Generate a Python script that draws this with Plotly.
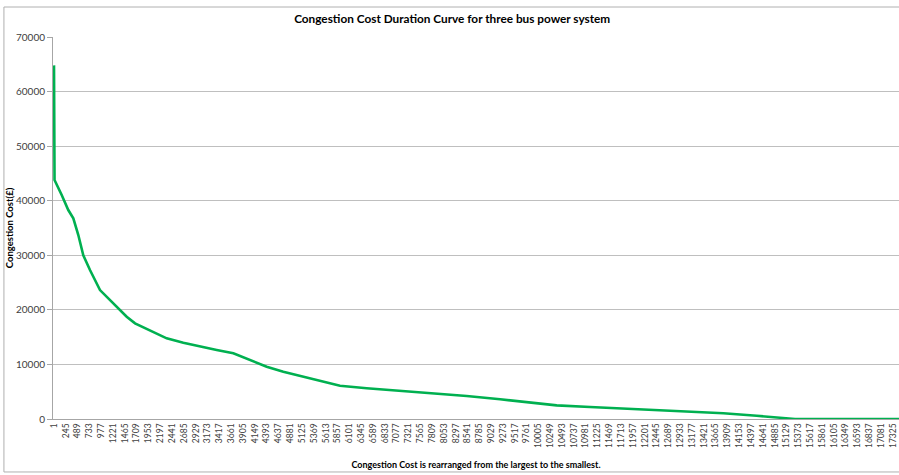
import plotly.graph_objects as go

# Data (rank index -> congestion cost)
rank = [1, 4, 12, 160, 207, 296, 400, 503, 606, 744, 951, 1122, 1329, 1502, 1674, 1948,
        2328, 2671, 3016, 3361, 3704, 4048, 4393, 4736, 5081, 5494, 5907, 6458, 7146,
        7834, 8523, 9213, 9692, 10382, 11070, 11758, 12447, 13135, 13823, 14512, 14925,
        15303, 16000, 17520]
cost = [64800, 50000, 43800, 41040, 40000, 38290, 36770, 33710, 30000, 27300, 23630, 22110,
        20460, 18740, 17530, 16430, 14780, 13980, 13250, 12640, 12040, 10810, 9580, 8670,
        7880, 7020, 6100, 5620, 5190, 4710, 4210, 3610, 3110, 2500, 2200, 1900, 1590, 1290,
        1040, 600, 240, 0, 0, 0]

tick_vals = list(range(1, 17326, 244))
tick_text = [str(v) for v in tick_vals]

FONT = "Lato"

fig = go.Figure()
fig.add_trace(go.Scatter(x=rank, y=cost, mode="lines",
                         line=dict(color="#00b050", width=2.6),
                         hoverinfo="skip", showlegend=False))

fig.update_layout(
    width=899, height=475,
    margin=dict(l=53, r=0, t=37, b=56, autoexpand=False),
    paper_bgcolor="white", plot_bgcolor="white",
    font=dict(family=FONT, color="#404040"),
    title=dict(text="<b>Congestion Cost Duration Curve for three bus power system</b>",
               x=0.503, xref="container", xanchor="center",
               y=1 - 19 / 475, yref="container", yanchor="middle",
               font=dict(family=FONT, size=11.8, color="black")),
    showlegend=False,
)

fig.update_yaxes(range=[0, 70000], dtick=10000, tickformat="d", automargin=False,
                 showgrid=True, gridcolor="#bfbfbf",
                 gridwidth=1, showline=True, linecolor="#a6a6a6", linewidth=1,
                 ticks="outside", ticklen=5, tickcolor="#a6a6a6", zeroline=False,
                 tickfont=dict(family=FONT, size=10, color="#404040"),
                 title=dict(text="<b>Congestion Cost(£)</b>", standoff=0,
                            font=dict(family=FONT, size=9.5, color="black")))

fig.update_xaxes(range=[-19.6, 17450], tickmode="array", tickvals=tick_vals,
                 ticktext=tick_text, tickangle=-90, showgrid=False, automargin=False,
                 showline=True, linecolor="#a6a6a6", linewidth=1, zeroline=False,
                 ticks="", tickfont=dict(family=FONT, size=8.5, color="#404040"),
                 title=dict(text="<b>Congestion Cost is rearranged from the largest to the smallest.</b>",
                            standoff=14, font=dict(family=FONT, size=9, color="black")))

# Outer chart-area border
fig.add_shape(type="rect", xref="paper", yref="paper",
              x0=-0.058, x1=1.2, y0=-0.1387, y1=1.0785,
              line=dict(color="#b0b0b0", width=1), fillcolor="rgba(0,0,0,0)", layer="below")

fig.write_html("out.html", config={"displayModeBar": False},
               post_script="document.body.style.margin='0';document.body.style.overflow='hidden';")
